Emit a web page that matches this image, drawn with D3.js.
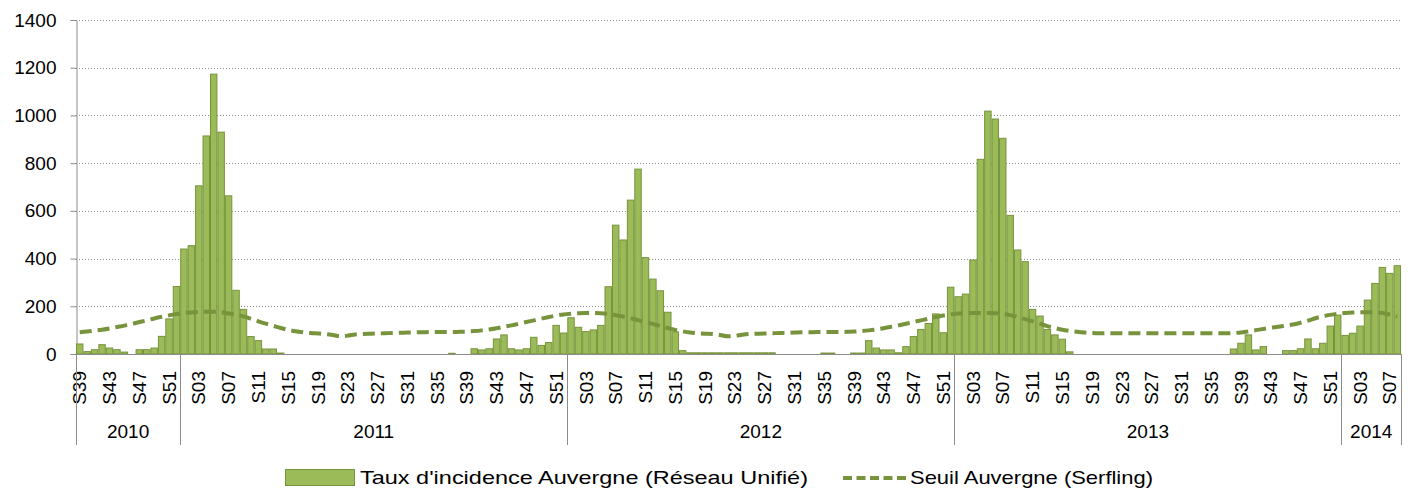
<!DOCTYPE html>
<html>
<head>
<meta charset="utf-8">
<script src="https://cdn.jsdelivr.net/npm/d3@7"></script>
<style>
  body { margin:0; background:#fff; }
  svg text { font-family: "Liberation Sans", Arial, sans-serif; fill:#000; }
</style>
</head>
<body>
<svg id="chart" width="1408" height="491"></svg>
<script>
// years shown and the weeks covered in each
const years = ['2010','2011','2012','2013','2014'];
const firstWeek = [39, 1, 1, 1, 1];
const lastWeek = [52, 52, 52, 52, 8];

// weekly incidence rate (Réseau Unifié)
const inc2010 = [42,10,18,39,25,18,8,0,18,18,25,74,147,283];
const inc2011 = [440,454,705,914,1173,930,663,267,187,73,56,21,21,4,0,0,0,0,0,0,0,0,0,0,0,0,0,0,0,0,0,0,0,0,0,0,3,0,0,22,17,22,63,80,22,17,22,70,36,48,120,88];
const inc2012 = [152,112,94,101,120,282,540,478,645,775,404,314,265,175,93,14,5,5,5,5,5,5,5,5,5,5,5,5,0,0,0,0,0,0,4,4,0,0,4,4,56,25,17,17,5,31,73,103,128,168,89,280];
const inc2013 = [240,251,394,816,1018,985,904,581,436,387,187,159,103,80,62,9,0,0,0,0,0,0,0,0,0,0,0,0,0,0,0,0,0,0,0,0,0,21,45,80,17,31,0,0,14,14,22,63,22,45,117,163];
const inc2014 = [78,87,117,226,296,363,338,370];

// epidemic threshold (Serfling)
const seuil2010 = [91,94,98,102,107,113,119,126,134,141,149,156,162,168];
const seuil2011 = [172,174,176,177,177,175,170,165,158,148,137,127,118,109,101,95,91,88,86,84,80,75,77,82,84,85,86,87,88,89,90,91,91,92,92,92,92,93,94,96,99,103,108,114,120,127,134,141,148,155,161,166];
const seuil2012 = [169,171,172,172,171,168,163,157,150,142,134,126,117,109,101,95,90,87,85,84,80,74,76,81,84,85,86,87,88,89,90,91,91,92,92,92,92,93,94,96,99,103,108,114,120,127,134,141,148,155,161,166];
const seuil2013 = [170,171,172,172,172,171,169,163,155,146,137,127,117,109,102,97,93,90,88,87,87,87,87,87,87,87,87,87,87,87,87,87,87,87,87,87,87,88,90,95,100,105,110,114,119,124,131,140,150,158,164,169];
const seuil2014 = [172,174,175,175,175,172,165,157];

const yTicks = [0,200,400,600,800,1000,1200,1400];
const legendLabels = ["Taux d'incidence Auvergne (Réseau Unifié)", 'Seuil Auvergne (Serfling)'];

const incByYear = [inc2010, inc2011, inc2012, inc2013, inc2014];
const seuilByYear = [seuil2010, seuil2011, seuil2012, seuil2013, seuil2014];

// flatten into one row per week
const rows = [];
years.forEach((yr, i) => {
  for (let w = firstWeek[i], k = 0; w <= lastWeek[i]; w++, k++) {
    rows.push({key: yr + '-' + w, year: yr, week: w, inc: incByYear[i][k], seuil: seuilByYear[i][k]});
  }
});

const green = '#9bbb59', greenDark = '#77933c', greyLine = '#8c8c8c';
const plotLeft = 76, plotRight = 1401, plotTop = 20, base = 354, sepBottom = 445;

const svg = d3.select('#chart');
const x = d3.scaleBand().domain(rows.map(d => d.key)).range([plotLeft, plotRight]).padding(0);
const y = d3.scaleLinear().domain([0, 1400]).range([base, plotTop]);

// dotted gridlines
svg.append('g').selectAll('line').data(yTicks.filter(t => t > 0)).join('line')
  .attr('x1', plotLeft).attr('x2', plotRight)
  .attr('y1', d => Math.round(y(d)) + 0.5).attr('y2', d => Math.round(y(d)) + 0.5)
  .attr('stroke', greyLine).attr('stroke-width', 1).attr('stroke-dasharray', '1,2');

// y axis
const yAxis = svg.append('g').attr('transform', `translate(${plotLeft + 0.5},0)`)
  .call(d3.axisLeft(y).tickValues(yTicks).tickSize(6).tickPadding(14).tickFormat(d3.format('d')));
yAxis.select('.domain').attr('stroke', greyLine);
yAxis.selectAll('.tick line').attr('stroke', greyLine);
yAxis.selectAll('.tick text').attr('font-size', 19).attr('font-family', '"Liberation Sans", Arial, sans-serif').attr('fill', '#000');

// bars
svg.append('g').selectAll('rect').data(rows).join('rect')
  .attr('x', d => x(d.key) + 0.5)
  .attr('width', x.bandwidth() - 1)
  .attr('y', d => y(d.inc))
  .attr('height', d => base - y(d.inc))
  .attr('fill', green)
  .attr('stroke', greenDark).attr('stroke-width', 1)
  .attr('stroke-opacity', d => d.inc > 0 ? 1 : 0);

// threshold line
const line = d3.line().x(d => x(d.key) + x.bandwidth() / 2).y(d => y(d.seuil)).curve(d3.curveMonotoneX);
svg.append('path').datum(rows).attr('d', line)
  .attr('fill', 'none').attr('stroke', greenDark).attr('stroke-width', 4)
  .attr('stroke-dasharray', '12,6');

// baseline
svg.append('line').attr('x1', plotLeft).attr('x2', plotRight).attr('y1', base + 0.5).attr('y2', base + 0.5)
  .attr('stroke', greyLine).attr('stroke-width', 1);

// week labels
svg.append('g').selectAll('text').data(rows.filter(d => (d.week - 3) % 4 === 0)).join('text')
  .attr('transform', d => `translate(${x(d.key) + x.bandwidth() / 2},371) rotate(-90)`)
  .attr('text-anchor', 'end').attr('dy', '0.35em').attr('font-size', 19)
  .text(d => 'S' + String(d.week).padStart(2, '0'));

// year separators and labels
const yearSpans = years.map(yr => {
  const r = rows.filter(d => d.year === yr);
  return {year: yr, x0: x(r[0].key), x1: x(r[r.length - 1].key) + x.bandwidth()};
});
const seps = [plotLeft].concat(yearSpans.map(s => s.x1));
svg.append('g').selectAll('line').data(seps).join('line')
  .attr('x1', d => Math.round(d) + 0.5).attr('x2', d => Math.round(d) + 0.5).attr('y1', base).attr('y2', sepBottom)
  .attr('stroke', greyLine).attr('stroke-width', 1);
svg.append('g').selectAll('text').data(yearSpans).join('text')
  .attr('x', d => (d.x0 + d.x1) / 2).attr('y', 438)
  .attr('text-anchor', 'middle').attr('font-size', 19)
  .text(d => d.year);

// legend
const lg = svg.append('g');
lg.append('rect').attr('x', 285.5).attr('y', 469.5).attr('width', 69).attr('height', 16)
  .attr('fill', green).attr('stroke', greenDark);
lg.append('text').attr('x', 360).attr('y', 484).attr('font-size', 19)
  .attr('textLength', 448).attr('lengthAdjust', 'spacingAndGlyphs').text(legendLabels[0]);
lg.append('line').attr('x1', 843).attr('x2', 906).attr('y1', 478).attr('y2', 478)
  .attr('stroke', greenDark).attr('stroke-width', 4).attr('stroke-dasharray', '9,4.5');
lg.append('text').attr('x', 910).attr('y', 484).attr('font-size', 19)
  .attr('textLength', 243).attr('lengthAdjust', 'spacingAndGlyphs').text(legendLabels[1]);
</script>
</body>
</html>
